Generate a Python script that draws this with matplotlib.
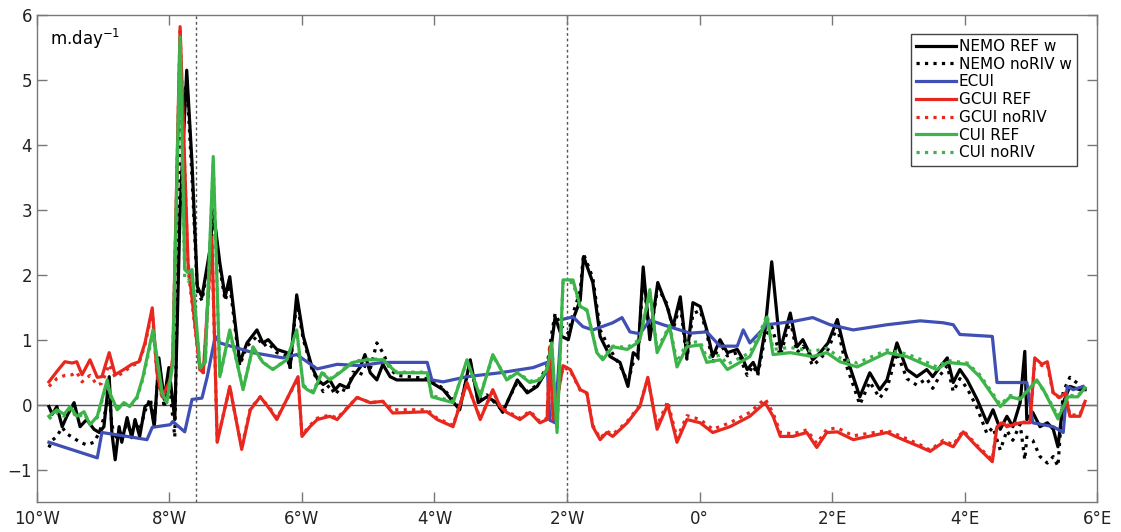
import numpy as np
import matplotlib
matplotlib.use("Agg")
import matplotlib.pyplot as plt

# longitude grids (deg, negative = W) and series values (m/day)
x_ecui = [-9.82, -9.09, -9.02, -8.64, -8.34, -8.26, -7.99, -7.95, -7.77, -7.66, -7.51, -7.43, -7.31, -7.24,
          -6.74, -6.29, -6.08, -5.77, -5.47, -5.12, -4.78, -4.11, -4.04, -3.87, -3.51, -3.01, -2.51, -2.30,
          -2.26, -2.18, -2.08, -1.91, -1.76, -1.61, -1.31, -1.17, -1.05, -0.90, -0.75, -0.55, -0.30, -0.14,
          0.11, 0.31, 0.57, 0.66, 0.76, 1.02, 1.41, 1.71, 1.97, 2.32, 2.83, 3.33, 3.68, 3.83, 3.93, 4.42,
          4.49, 4.94, 5.03, 5.34, 5.49, 5.55, 5.64, 5.79]
ecui = [-0.58, -0.82, -0.43, -0.49, -0.54, -0.35, -0.31, -0.26, -0.42, 0.08, 0.10, 0.43, 1.05, 0.95,
        0.80, 0.72, 0.77, 0.55, 0.62, 0.60, 0.65, 0.65, 0.38, 0.35, 0.43, 0.49, 0.57, 0.65,
        -0.24, -0.28, 1.31, 1.35, 1.20, 1.15, 1.26, 1.34, 1.12, 1.09, 1.30, 1.23, 1.15, 1.10,
        1.12, 0.90, 0.90, 1.15, 0.95, 1.23, 1.28, 1.34, 1.23, 1.15, 1.23, 1.29, 1.26, 1.23, 1.08, 1.05,
        0.34, 0.34, -0.28, -0.34, -0.43, 0.28, 0.23, 0.28]

x_gcui = [-9.82, -9.70, -9.58, -9.47, -9.40, -9.32, -9.20, -9.09, -9.02, -8.91, -8.82, -8.69, -8.57, -8.46,
          -8.37, -8.26, -8.19, -8.11, -7.99, -7.95, -7.84, -7.72, -7.54, -7.49, -7.36, -7.28, -7.09, -6.91,
          -6.78, -6.63, -6.48, -6.38, -6.23, -6.06, -6.00, -5.88, -5.77, -5.58, -5.47, -5.17, -4.97, -4.78,
          -4.63, -4.11, -3.96, -3.72, -3.51, -3.31, -3.12, -3.01, -2.91, -2.71, -2.56, -2.41, -2.30, -2.26,
          -2.21, -2.15, -2.06, -1.95, -1.80, -1.70, -1.61, -1.50, -1.40, -1.31, -1.09, -0.94, -0.90, -0.78,
          -0.64, -0.48, -0.34, -0.19, 0.01, 0.20, 0.46, 0.76, 0.99, 1.11, 1.22, 1.41, 1.62, 1.77, 1.92,
          2.08, 2.32, 2.83, 3.07, 3.33, 3.48, 3.68, 3.83, 3.98, 4.19, 4.42, 4.49, 4.58, 4.64, 4.84, 4.99,
          5.06, 5.17, 5.25, 5.34, 5.44, 5.52, 5.59, 5.74, 5.82]
gcui_ref = [0.35, 0.51, 0.66, 0.64, 0.66, 0.46, 0.69, 0.42, 0.43, 0.80, 0.46, 0.54, 0.62, 0.66,
            0.95, 1.49, 0.49, 0.12, 0.38, 0.74, 5.82, 2.18, 0.54, 0.49, 2.58, -0.58, 0.28, -0.69,
            -0.08, 0.12, -0.08, -0.23, 0.08, 0.43, -0.49, -0.34, -0.23, -0.18, -0.23, 0.11, 0.03, 0.05,
            -0.13, -0.11, -0.23, -0.34, 0.34, -0.23, 0.23, -0.03, -0.12, -0.23, -0.12, -0.28, -0.23, 0.89,
            -0.23, 0.08, 0.60, 0.54, 0.23, 0.18, -0.34, -0.54, -0.43, -0.49, -0.28, -0.08, -0.03, 0.42,
            -0.38, 0.00, -0.58, -0.23, -0.28, -0.43, -0.34, -0.18, 0.03, -0.18, -0.49, -0.49, -0.43, -0.66, -0.43,
            -0.42, -0.54, -0.43, -0.54, -0.65, -0.72, -0.58, -0.65, -0.42, -0.65, -0.88, -0.34, -0.28, -0.34, -0.28, -0.28,
            0.72, 0.62, 0.66, 0.18, 0.11, 0.18, -0.18, -0.18, 0.05]
gcui_norv = [0.28, 0.40, 0.45, 0.46, 0.50, 0.35, 0.45, 0.30, 0.33, 0.62, 0.42, 0.50, 0.60, 0.64,
             0.92, 1.45, 0.45, 0.10, 0.36, 0.70, 5.75, 2.10, 0.52, 0.47, 2.50, -0.56, 0.26, -0.66,
             -0.06, 0.12, -0.06, -0.21, 0.08, 0.40, -0.47, -0.32, -0.21, -0.16, -0.21, 0.11, 0.03, 0.05,
             -0.08, -0.08, -0.21, -0.32, 0.32, -0.21, 0.21, -0.03, -0.10, -0.21, -0.10, -0.26, -0.21, 0.85,
             -0.21, 0.08, 0.58, 0.52, 0.22, 0.17, -0.32, -0.52, -0.41, -0.46, -0.26, -0.06, -0.01, 0.40,
             -0.33, 0.05, -0.52, -0.17, -0.23, -0.38, -0.28, -0.12, 0.09, -0.13, -0.43, -0.45, -0.39, -0.60, -0.38,
             -0.36, -0.48, -0.40, -0.50, -0.62, -0.70, -0.55, -0.62, -0.40, -0.63, -0.85, -0.32, -0.27, -0.32, -0.27, -0.27,
             0.68, 0.60, 0.62, 0.16, 0.10, 0.16, -0.16, -0.16, 0.05]

x_cui = [-9.82, -9.70, -9.59, -9.50, -9.40, -9.29, -9.20, -9.09, -9.02, -8.94, -8.90, -8.79, -8.69, -8.60,
         -8.49, -8.40, -8.25, -8.11, -8.04, -7.95, -7.84, -7.77, -7.72, -7.66, -7.54, -7.46, -7.34, -7.24,
         -7.09, -6.89, -6.74, -6.59, -6.44, -6.23, -6.08, -5.98, -5.92, -5.83, -5.70, -5.58, -5.43, -5.23,
         -5.02, -4.78, -4.57, -4.11, -4.04, -3.72, -3.51, -3.31, -3.12, -2.91, -2.75, -2.56, -2.41, -2.30,
         -2.23, -2.15, -2.06, -1.91, -1.80, -1.70, -1.55, -1.46, -1.31, -1.09, -0.94, -0.90, -0.75, -0.64,
         -0.45, -0.34, -0.19, 0.01, 0.11, 0.31, 0.42, 0.61, 0.76, 0.91, 1.02, 1.11, 1.37, 1.71, 1.92,
         2.12, 2.38, 2.83, 3.13, 3.33, 3.58, 3.74, 4.04, 4.23, 4.54, 4.69, 4.84, 5.09, 5.19, 5.29, 5.41,
         5.56, 5.71, 5.82]
cui_ref = [-0.18, -0.08, -0.15, -0.03, -0.18, -0.11, -0.31, -0.18, 0.08, 0.38, 0.18, -0.08, 0.03, -0.03,
           0.12, 0.43, 1.15, 0.18, 0.03, 0.65, 5.66, 2.08, 2.03, 2.08, 0.58, 0.65, 3.82, 0.43,
           1.15, 0.23, 0.89, 0.65, 0.54, 0.69, 1.15, 0.28, 0.23, 0.18, 0.49, 0.38, 0.49, 0.65,
           0.69, 0.69, 0.49, 0.49, 0.12, 0.03, 0.69, 0.12, 0.77, 0.38, 0.49, 0.34, 0.38, 0.54,
           0.95, -0.43, 1.92, 1.92, 1.51, 1.46, 0.80, 0.69, 0.89, 0.85, 0.95, 1.00, 1.77, 0.80,
           1.20, 0.58, 0.89, 0.92, 0.65, 0.69, 0.54, 0.65, 0.74, 1.05, 1.35, 0.77, 0.80, 0.74, 0.80,
           0.66, 0.58, 0.80, 0.74, 0.65, 0.54, 0.65, 0.62, 0.43, -0.03, 0.12, 0.08, 0.38, 0.23, 0.03, -0.22,
           0.12, 0.12, 0.26]
cui_norv = [-0.22, -0.12, -0.18, -0.06, -0.20, -0.14, -0.30, -0.20, 0.05, 0.33, 0.15, -0.08, 0.03, -0.03,
            0.10, 0.40, 1.10, 0.16, 0.03, 0.62, 5.55, 1.95, 1.90, 2.00, 0.56, 0.63, 3.70, 0.43,
            1.12, 0.25, 0.87, 0.65, 0.55, 0.69, 1.12, 0.30, 0.25, 0.20, 0.50, 0.40, 0.50, 0.66,
            0.70, 0.70, 0.50, 0.50, 0.14, 0.05, 0.67, 0.14, 0.75, 0.40, 0.50, 0.36, 0.40, 0.55,
            0.92, -0.40, 1.88, 1.88, 1.50, 1.45, 0.82, 0.72, 0.90, 0.88, 0.98, 1.02, 1.72, 0.85,
            1.22, 0.65, 0.95, 0.97, 0.72, 0.76, 0.62, 0.72, 0.80, 1.10, 1.38, 0.85, 0.88, 0.82, 0.87,
            0.72, 0.64, 0.84, 0.78, 0.70, 0.58, 0.68, 0.64, 0.46, 0.00, 0.14, 0.10, 0.36, 0.22, 0.05, -0.18,
            0.14, 0.14, 0.26]

x_nemo = [-9.82, -9.77, -9.70, -9.62, -9.55, -9.44, -9.35, -9.25, -9.14, -9.06, -8.99, -8.91, -8.87, -8.82,
          -8.76, -8.72, -8.64, -8.57, -8.52, -8.45, -8.37, -8.29, -8.23, -8.16, -8.08, -8.01, -7.96, -7.92,
          -7.84, -7.74, -7.66, -7.58, -7.51, -7.39, -7.34, -7.24, -7.16, -7.09, -6.94, -6.83, -6.68, -6.59,
          -6.51, -6.38, -6.23, -6.18, -6.08, -5.98, -5.85, -5.76, -5.68, -5.58, -5.50, -5.43, -5.32, -5.23,
          -5.12, -5.05, -4.97, -4.87, -4.78, -4.67, -4.57, -4.11, -3.87, -3.62, -3.46, -3.34, -3.21, -3.06,
          -2.97, -2.75, -2.60, -2.45, -2.30, -2.23, -2.18, -2.08, -1.98, -1.91, -1.80, -1.75, -1.61, -1.50,
          -1.35, -1.20, -1.08, -1.00, -0.93, -0.85, -0.75, -0.63, -0.49, -0.40, -0.29, -0.19, -0.10, 0.01,
          0.11, 0.20, 0.31, 0.42, 0.57, 0.66, 0.72, 0.81, 0.88, 0.99, 1.09, 1.22, 1.37, 1.47, 1.56, 1.71,
          1.82, 1.94, 2.08, 2.20, 2.32, 2.42, 2.57, 2.72, 2.83, 2.98, 3.13, 3.28, 3.43, 3.52, 3.63, 3.74,
          3.83, 3.93, 4.04, 4.19, 4.34, 4.43, 4.54, 4.64, 4.73, 4.84, 4.91, 4.94, 5.03, 5.14, 5.25, 5.34,
          5.41, 5.49, 5.59, 5.74, 5.82]
nemo_ref = [-0.03, -0.15, -0.03, -0.34, -0.18, 0.03, -0.34, -0.23, -0.38, -0.43, -0.34, 0.43, -0.43, -0.85,
            -0.34, -0.58, -0.20, -0.51, -0.23, -0.49, -0.03, 0.03, -0.34, 0.72, 0.08, 0.57, 0.12, -0.23,
            3.00, 5.15, 3.72, 1.82, 1.66, 2.38, 3.00, 2.18, 1.66, 1.97, 0.65, 0.95, 1.15, 0.95,
            1.00, 0.85, 0.80, 0.57, 1.69, 1.05, 0.58, 0.38, 0.31, 0.38, 0.23, 0.31, 0.26, 0.43,
            0.58, 0.77, 0.49, 0.38, 0.62, 0.43, 0.38, 0.38, 0.23, -0.08, 0.69, 0.03, 0.12, 0.03,
            -0.12, 0.38, 0.18, 0.28, 0.54, 0.95, 1.35, 1.05, 1.00, 1.31, 1.61, 2.28, 1.88, 1.05,
            0.74, 0.65, 0.28, 0.80, 0.74, 2.12, 1.00, 1.88, 1.51, 1.20, 1.66, 0.74, 1.57, 1.51,
            1.15, 0.74, 1.00, 0.80, 0.85, 0.69, 0.54, 0.65, 0.49, 1.15, 2.20, 0.85, 1.41, 0.89, 1.00, 0.69,
            0.80, 0.95, 1.31, 0.80, 0.43, 0.12, 0.49, 0.23, 0.38, 0.95, 0.54, 0.43, 0.54, 0.43, 0.58, 0.72,
            0.34, 0.54, 0.38, 0.08, -0.28, -0.08, -0.38, -0.18, -0.34, 0.03, 0.82, -0.23, -0.12, -0.34, -0.28, -0.38,
            -0.65, 0.03, 0.28, 0.23, 0.23]
nemo_norv = [-0.66, -0.55, -0.49, -0.35, -0.45, -0.52, -0.58, -0.62, -0.58, -0.43, -0.20, 0.15, -0.30, -0.55,
             -0.40, -0.50, -0.30, -0.45, -0.25, -0.40, -0.10, 0.10, -0.30, 0.60, -0.05, 0.45, -0.10, -0.50,
             4.20, 5.00, 3.50, 1.75, 1.60, 2.30, 2.85, 2.10, 1.60, 1.85, 0.60, 0.90, 1.05, 0.90,
             0.95, 0.80, 0.75, 0.55, 1.60, 1.00, 0.55, 0.35, 0.20, 0.30, 0.15, 0.25, 0.20, 0.50,
             0.45, 0.60, 0.55, 0.95, 0.80, 0.55, 0.45, 0.40, 0.25, -0.05, 0.65, 0.05, 0.15, 0.00,
             -0.10, 0.35, 0.20, 0.30, 0.60, 1.10, 1.40, 1.20, 1.10, 1.40, 1.75, 2.32, 1.95, 1.15,
             0.85, 0.60, 0.35, 0.65, 0.70, 2.00, 1.05, 1.80, 1.55, 1.15, 1.55, 0.70, 1.40, 1.45,
             1.10, 0.65, 0.95, 0.75, 0.80, 0.60, 0.45, 0.60, 0.45, 1.05, 1.20, 0.75, 1.30, 0.80, 0.90, 0.60,
             0.70, 0.85, 1.20, 0.65, 0.30, 0.00, 0.35, 0.10, 0.25, 0.80, 0.40, 0.30, 0.40, 0.25, 0.45, 0.60,
             0.20, 0.40, 0.25, -0.05, -0.45, -0.35, -0.70, -0.40, -0.55, -0.30, -0.85, -0.50, -0.55, -0.80, -0.90, -0.80,
             -0.95, 0.20, 0.42, 0.30, 0.20]

vlines = [-7.6, -2.0]
xticks = [-10, -8, -6, -4, -2, 0, 2, 4, 6]
xtick_labels = ["10°W", "8°W", "6°W", "4°W", "2°W", "0°", "2°E", "4°E", "6°E"]
yticks = [-1, 0, 1, 2, 3, 4, 5, 6]

c_blue = "#3f4fb3"
c_red = "#e8281e"
c_green = "#3cb44a"

fig = plt.figure(figsize=(11.21, 5.32), dpi=100)
ax = fig.add_axes([0.033, 0.0564, 0.9456, 0.9154])

lw = 2.3
ax.plot(x_nemo, nemo_ref, color="black", lw=lw, label="NEMO REF w")
ax.plot(x_nemo, nemo_norv, color="black", lw=lw, ls=":", label="NEMO noRIV w")
ax.plot(x_ecui, ecui, color=c_blue, lw=lw, label="ECUI")
ax.plot(x_gcui, gcui_ref, color=c_red, lw=lw, label="GCUI REF")
ax.plot(x_gcui, gcui_norv, color=c_red, lw=lw, ls=":", label="GCUI noRIV")
ax.plot(x_cui, cui_ref, color=c_green, lw=lw, label="CUI REF")
ax.plot(x_cui, cui_norv, color=c_green, lw=lw, ls=":", label="CUI noRIV")

ax.axhline(0, color="#555555", lw=1.0, zorder=0)
for v in vlines:
    ax.axvline(v, color="#555555", lw=1.0, ls=(0, (2, 2)), zorder=0)

ax.set_xlim(-10, 6)
ax.set_ylim(-1.5, 6)
ax.set_xticks(xticks)
ax.set_xticklabels(xtick_labels)
ax.set_yticks(yticks)
ax.tick_params(direction="in", length=7, width=1, color="#777777", labelsize=12,
               top=True, right=True, labelcolor="#222222")
ax.tick_params(axis="x", pad=6)
for s in ax.spines.values():
    s.set_color("#777777")
    s.set_linewidth(1.0)

ax.text(0.012, 0.975, "m.day$^{-1}$", transform=ax.transAxes, ha="left", va="top", fontsize=12)

leg = ax.legend(loc="upper right", bbox_to_anchor=(0.981, 0.962), fontsize=11, handlelength=2.6,
                handletextpad=0.2, borderpad=0.35, labelspacing=0.18, fancybox=False,
                framealpha=1, edgecolor="#444444", borderaxespad=0)
leg.get_frame().set_linewidth(1.0)

fig.savefig("out.png", dpi=100)
